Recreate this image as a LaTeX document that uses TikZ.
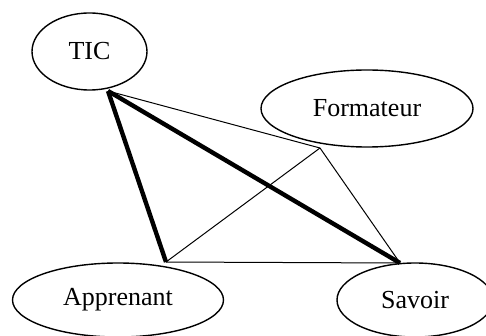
\documentclass[tikz,border=0pt]{standalone}
\usepackage{fontspec}
\setmainfont{Liberation Serif}
\usepackage{tikz}
\usetikzlibrary{shapes.geometric}

\begin{document}
\begin{tikzpicture}[x=0.5pt,y=-0.5pt,font=\fontsize{13}{15}\selectfont]
        \clip (0,0) rectangle (486,336);
        \node[shape=ellipse,draw=black,line width=0.7pt,minimum width=57.5pt,minimum height=38.5pt,inner sep=0pt] (tic) at (89.5,51.5)     {TIC};
        \node[shape=ellipse,draw=black,line width=0.7pt,minimum width=106pt,minimum height=38.5pt,inner sep=0pt] (formateur) at (367,108.5)     {Formateur};
        \node[shape=ellipse,draw=black,line width=0.7pt,minimum width=105.5pt,minimum height=37pt,inner sep=0pt] (apprenant) at (118,300)     {Apprenant};
        \node[shape=ellipse,draw=black,line width=0.7pt,minimum width=78pt,minimum height=37pt,inner sep=0pt] (savoir) at (415,300)     {Savoir};
        %corners of the triangles
        \coordinate (t) at (108,91);
        \coordinate (f) at (320,148);
        \coordinate (a) at (166,262);
        \coordinate (s) at (400,263);
        %thin edges
        \path[-,line width=0.5pt] (t) edge (f);
        \path[-,line width=0.5pt] (f) edge (a);
        \path[-,line width=0.5pt] (f) edge (s);
        \path[-,line width=0.5pt] (a) edge (s);
        %thick edges
        \path[-,line width=2.2pt,line join=miter] (a) edge (t);
        \path[-,line width=2.2pt] (t) edge (s);
\end{tikzpicture}
\end{document}
